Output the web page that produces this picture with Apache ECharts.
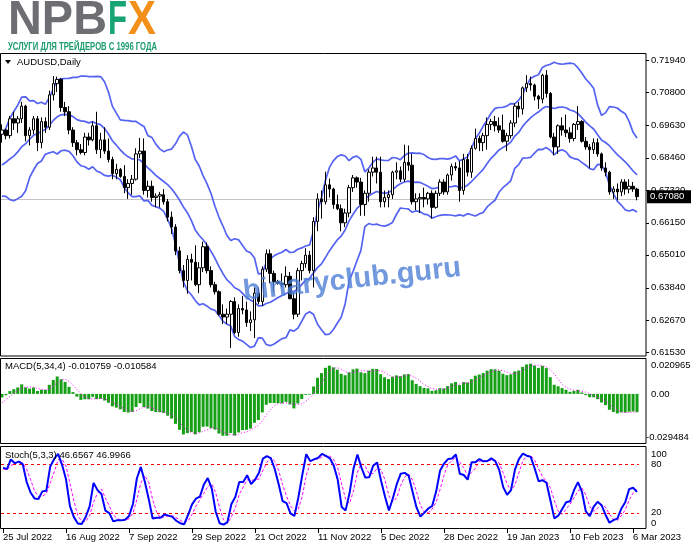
<!DOCTYPE html>
<html><head><meta charset="utf-8">
<script src="https://cdn.jsdelivr.net/npm/echarts@6/dist/echarts.min.js"></script>
<style>html,body{margin:0;padding:0;background:#fff;}#c{width:691px;height:549px;}</style>
</head><body><div id="c"></div>
<script>
// ---------- DATA ----------
const open = [.6930,.6945,.6925,.6985,.6970,.6985,.7030,.6925,.6945,.6985,.6900,.6975,.6955,.7070,.7110,.7125,.7025,.7010,.6945,.6900,
.6875,.6865,.6920,.6910,.6960,.6875,.6910,.6870,.6840,.6790,.6805,.6780,.6740,.6755,.6770,.6860,.6870,.6730,.6745,.6705,
.6710,.6715,.6690,.6635,.6600,.6515,.6445,.6410,.6485,.6475,.6395,.6455,.6530,.6445,.6395,.6370,.6290,.6280,.6290,.6335,
.6225,.6310,.6305,.6260,.6270,.6365,.6335,.6450,.6505,.6435,.6405,.6400,.6395,.6425,.6345,.6290,.6445,.6470,.6500,.6445,
.6620,.6700,.6690,.6750,.6735,.6680,.6665,.6615,.6650,.6740,.6775,.6760,.6680,.6720,.6795,.6810,.6795,.6690,.6705,.6715,
.6795,.6800,.6770,.6830,.6820,.6690,.6700,.6705,.6700,.6720,.6670,.6720,.6760,.6725,.6785,.6815,.6810,.6730,.6840,.6795,
.6880,.6915,.6900,.6925,.6965,.6975,.6960,.6945,.6905,.6925,.6970,.7030,.7020,.7095,.7110,.7105,.7065,.7055,.7140,.7075,
.6920,.6885,.6960,.6945,.6935,.6915,.6965,.6975,.6905,.6885,.6875,.6900,.6860,.6810,.6795,.6725,.6735,.6725,.6760,.6735,
.6745,.6735];
const high = [.6965,.6950,.6995,.7010,.6995,.7045,.7035,.6955,.6995,.6995,.6990,.6990,.7085,.7137,.7135,.7130,.7045,.7030,.6955,.6910,
.6895,.6935,.6935,.6975,.7010,.6935,.6955,.6915,.6850,.6825,.6810,.6820,.6770,.6785,.6880,.6917,.6915,.6765,.6765,.6720,
.6725,.6735,.6700,.6655,.6610,.6530,.6465,.6500,.6505,.6535,.6475,.6548,.6545,.6460,.6405,.6375,.6325,.6310,.6340,.6350,
.6325,.6355,.6335,.6300,.6385,.6385,.6460,.6520,.6520,.6445,.6412,.6435,.6460,.6440,.6365,.6455,.6480,.6525,.6515,.6635,
.6720,.6730,.6797,.6772,.6740,.6715,.6680,.6665,.6750,.6785,.6780,.6775,.6730,.6805,.6850,.6850,.6850,.6730,.6730,.6800,
.6830,.6815,.6893,.6890,.6860,.6720,.6720,.6740,.6725,.6730,.6730,.6770,.6770,.6790,.6825,.6830,.6835,.6860,.6860,.6890,
.6950,.6925,.6935,.6990,.6985,.6995,.6990,.7000,.6935,.6980,.7040,.7045,.7100,.7140,.7135,.7110,.7070,.7145,.7158,.7080,
.6935,.6965,.6990,.7000,.6955,.6970,.7030,.6980,.6920,.6895,.6915,.6915,.6865,.6830,.6800,.6745,.6755,.6770,.6770,.6770,
.6760,.6740];
const low = [.6900,.6912,.6915,.6945,.6935,.6970,.6905,.6890,.6930,.6870,.6880,.6935,.6945,.7050,.7080,.7010,.6995,.6930,.6885,.6855,
.6858,.6855,.6890,.6905,.6860,.6845,.6860,.6830,.6770,.6770,.6775,.6720,.6700,.6715,.6765,.6845,.6715,.6705,.6690,.6670,
.6670,.6680,.6620,.6575,.6500,.6435,.6385,.6363,.6410,.6390,.6365,.6440,.6435,.6385,.6360,.6285,.6255,.6255,.6170,.6220,
.6210,.6290,.6245,.6230,.6205,.6325,.6320,.6440,.6400,.6370,.6395,.6385,.6385,.6345,.6272,.6280,.6410,.6455,.6435,.6385,
.6585,.6630,.6680,.6705,.6665,.6660,.6585,.6600,.6635,.6725,.6740,.6640,.6640,.6690,.6780,.6755,.6670,.6670,.6670,.6700,
.6770,.6760,.6760,.6800,.6680,.6660,.6650,.6670,.6680,.6630,.6665,.6710,.6715,.6715,.6765,.6800,.6690,.6715,.6780,.6775,
.6875,.6870,.6870,.6875,.6945,.6940,.6935,.6900,.6870,.6915,.6955,.6990,.7000,.7080,.7085,.7050,.7020,.7040,.7060,.6915,
.6855,.6860,.6925,.6920,.6900,.6905,.6945,.6900,.6875,.6810,.6860,.6850,.6800,.6780,.6715,.6700,.6695,.6710,.6715,.6720,
.6725,.6695];
const close = [.6945,.6925,.6985,.6970,.6985,.7030,.6925,.6945,.6985,.6900,.6975,.6955,.7070,.7110,.7125,.7025,.7010,.6945,.6900,.6875,
.6865,.6920,.6910,.6960,.6875,.6910,.6870,.6840,.6790,.6805,.6780,.6740,.6755,.6770,.6860,.6870,.6730,.6745,.6705,.6710,
.6715,.6690,.6635,.6600,.6515,.6445,.6410,.6485,.6475,.6395,.6455,.6530,.6445,.6395,.6370,.6290,.6280,.6290,.6335,.6225,
.6310,.6305,.6260,.6270,.6365,.6335,.6450,.6505,.6435,.6405,.6400,.6395,.6425,.6345,.6290,.6445,.6470,.6500,.6445,.6620,
.6700,.6690,.6750,.6735,.6680,.6665,.6615,.6650,.6740,.6775,.6760,.6680,.6720,.6795,.6810,.6795,.6690,.6705,.6715,.6795,
.6800,.6770,.6830,.6820,.6690,.6700,.6705,.6700,.6720,.6670,.6720,.6760,.6725,.6785,.6815,.6810,.6730,.6840,.6795,.6880,
.6915,.6900,.6925,.6965,.6975,.6960,.6945,.6905,.6925,.6970,.7030,.7020,.7095,.7110,.7105,.7065,.7055,.7140,.7075,.6920,
.6885,.6960,.6945,.6935,.6915,.6965,.6975,.6905,.6885,.6875,.6900,.6860,.6810,.6795,.6725,.6735,.6725,.6760,.6735,.6745,
.6735,.6708];
// closes / highs / lows before the first visible bar (indicator warm-up, estimated)
const priorClose = [.7180,.7175,.7165,.7235,.7210,.7195,.7225,.7210,.7140,.7045,.6925,.6920,.7015,.7030,.6935,.6950,.6975,.6945,.6900,.6955,
.6925,.6880,.6860,.6870,.6790,.6820,.6745,.6790,.6820,.6830,.6775,.6770,.6780,.6720,.6790,.6810,.6880,.6840,.6870,.6870];
const priorHigh = [.6800,.6790,.6810,.6850,.6905,.6915,.6895,.6935];
const priorLow  = [.6740,.6681,.6715,.6775,.6790,.6830,.6820,.6850];
const priceTicks = [0.71940,0.70800,0.69630,0.68460,0.67320,0.66150,0.65010,0.63840,0.62670,0.61530];
const macdTicks = [0.020965, 0, -0.029484];
const stochTicks = [100, 80, 20, 0];
const stochLevels = [80, 20];
const symbolTitle = 'AUDUSD,Daily';
const macdTitle = 'MACD(5,34,4) -0.010759 -0.010584';
const stochTitle = 'Stoch(5,3,3) 46.6567 46.9966';
const currentPrice = 0.67080;
const BB_PERIOD = 14, BB_DEV = 2;

// ---------- categories (trading days) ----------
const MON = ['Jan','Feb','Mar','Apr','May','Jun','Jul','Aug','Sep','Oct','Nov','Dec'];
const dates = [];
(function(){
  let t = Date.UTC(2022,6,25); const end = Date.UTC(2023,2,7);
  while (t <= end) {
    const d = new Date(t), wd = d.getUTCDay(), m = d.getUTCMonth(), dd = d.getUTCDate(), y = d.getUTCFullYear();
    const holiday = (y===2022 && m===11 && dd===26);
    const sunBar = (y===2022 && m===9 && dd===30);
    if ((wd>=1 && wd<=5 && !holiday) || sunBar) dates.push(dd+' '+MON[m]+' '+y);
    t += 86400000;
  }
})();

// ---------- indicators ----------
const P = priorClose.length;
const cAll = priorClose.concat(close);
function ema(arr,n){const k=2/(n+1);const o=[];arr.forEach((v,i)=>o.push(i===0?v:v*k+o[i-1]*(1-k)));return o;}
const e5=ema(cAll,5), e34=ema(cAll,34);
const macdAll=cAll.map((v,i)=>e5[i]-e34[i]);
const sigAll=macdAll.map((v,i)=>i<3?v:(macdAll[i]+macdAll[i-1]+macdAll[i-2]+macdAll[i-3])/4);
const macd=macdAll.slice(P), macdSig=sigAll.slice(P);
const bbMid=[],bbUp=[],bbLo=[];
for(let i=P;i<cAll.length;i++){const w=cAll.slice(i-BB_PERIOD+1,i+1);const m=w.reduce((a,b)=>a+b,0)/BB_PERIOD;
  const sd=Math.sqrt(w.reduce((a,b)=>a+(b-m)*(b-m),0)/BB_PERIOD);bbMid.push(m);bbUp.push(m+BB_DEV*sd);bbLo.push(m-BB_DEV*sd);}
const Q=priorHigh.length;
const hA=priorHigh.concat(high), lA=priorLow.concat(low), cA=priorClose.slice(P-Q).concat(close);
const num=[],den=[];
for(let i=0;i<hA.length;i++){if(i<4){num.push(0);den.push(0);continue;}let hh=-1,ll=9;
  for(let j=i-4;j<=i;j++){hh=Math.max(hh,hA[j]);ll=Math.min(ll,lA[j]);}num.push(cA[i]-ll);den.push(hh-ll);}
const kAll=hA.map((v,i)=>{if(i<6)return null;const s1=num[i]+num[i-1]+num[i-2],s2=den[i]+den[i-1]+den[i-2];return s2?100*s1/s2:100;});
const dAll=kAll.map((v,i)=>i<8?null:(kAll[i]+kAll[i-1]+kAll[i-2])/3);
const stK=kAll.slice(Q), stD=dAll.slice(Q);

// ---------- layout ----------
const FONT='Liberation Sans';
const PW=639;
const MAIN_TOP=53, MAIN_H=303;
const mainMax=0.7194+7/2812, mainMin=0.7194-296/2812;
const chart=echarts.init(document.getElementById('c'),null,{renderer:'canvas',width:691,height:549});
function xAx(gi,show){return {type:'category',gridIndex:gi,data:dates,boundaryGap:true,
  axisLine:{show:false},splitLine:{show:false},
  axisTick:{show:show,interval:(i)=>i%16===0,alignWithLabel:true,length:4,lineStyle:{color:'#000',width:1}},
  axisLabel:{show:show,interval:(i)=>i%16===0,align:'left',margin:3,fontSize:9.5,color:'#000',fontFamily:FONT}};}
const cd=open.map((o,i)=>[o,close[i],low[i],high[i]]);
const lineS=(d)=>({type:'line',xAxisIndex:0,yAxisIndex:0,data:d,showSymbol:false,symbol:'none',silent:true,
  lineStyle:{color:'#5563f2',width:1.7},z:3});
chart.setOption({
  animation:false,
  textStyle:{fontFamily:FONT},
  grid:[{left:0,top:MAIN_TOP,width:PW,height:MAIN_H},{left:0,top:359,width:PW,height:84},{left:0,top:448,width:PW,height:81}],
  xAxis:[xAx(0,false),xAx(1,false),xAx(2,true)],
  yAxis:[
    {type:'value',gridIndex:0,position:'right',offset:7,min:mainMin,max:mainMax,splitLine:{show:false},axisLine:{show:false},
     axisTick:{show:true,customValues:priceTicks,length:3,lineStyle:{color:'#000'}},
     axisLabel:{customValues:priceTicks,formatter:(v)=>v.toFixed(5),fontSize:9.5,color:'#000',margin:5,fontFamily:FONT}},
    {type:'value',gridIndex:1,position:'right',offset:7,min:-0.029484,max:0.020965,splitLine:{show:false},axisLine:{show:false},
     axisTick:{show:false},axisLabel:{show:false}},
    {type:'value',gridIndex:2,position:'right',offset:7,min:0,max:100,splitLine:{show:false},axisLine:{show:false},
     axisTick:{show:false},axisLabel:{show:false}}
  ],
  series:[
    {type:'candlestick',xAxisIndex:0,yAxisIndex:0,data:cd,barWidth:3,silent:true,z:4,
     itemStyle:{color:'#ffffff',color0:'#000000',borderColor:'#000000',borderColor0:'#000000',borderWidth:1},
     markLine:{silent:true,symbol:'none',label:{show:false},lineStyle:{color:'#c4c4c4',type:'solid',width:1},data:[{yAxis:currentPrice}],z:1}},
    lineS(bbUp),lineS(bbMid),lineS(bbLo),
    {type:'bar',xAxisIndex:1,yAxisIndex:1,data:macd,barWidth:3,silent:true,itemStyle:{color:'#16a016'}},
    {type:'line',xAxisIndex:1,yAxisIndex:1,data:macdSig,showSymbol:false,symbol:'none',silent:true,z:5,
     lineStyle:{color:'#ff00ff',width:1,type:[1,2]}},
    {type:'line',xAxisIndex:2,yAxisIndex:2,data:stK,showSymbol:false,symbol:'none',silent:true,z:5,
     lineStyle:{color:'#0000ff',width:2},
     markLine:{silent:true,symbol:'none',label:{show:false},lineStyle:{color:'#ff0000',type:[3,3],width:1},
       data:stochLevels.map(v=>({yAxis:v}))}},
    {type:'line',xAxisIndex:2,yAxisIndex:2,data:stD,showSymbol:false,symbol:'none',silent:true,z:4,
     lineStyle:{color:'#ff00ff',width:1,type:[3,2]}}
  ]
});

// ---------- decorations (text, frames) ----------
const ctx=document.createElement('canvas').getContext('2d');
function tw(txt,font){ctx.font=font;return ctx.measureText(txt).width;}
const G=[];
function T(x,y,txt,size,opt){opt=opt||{};G.push({type:'text',x:x,y:y,z:opt.z||50,scaleX:opt.sx||1,scaleY:opt.sy||1,rotation:opt.rot||0,
  style:{text:txt,fill:opt.fill||'#000',font:(opt.w||'normal')+' '+size+'px "'+(opt.ff||FONT)+'"',
  textAlign:opt.align||'left',textVerticalAlign:opt.va||'middle',opacity:opt.op==null?1:opt.op}});}
[[53.5,302.5],[358.5,85],[446.5,82]].forEach(f=>G.push({type:'rect',z:40,shape:{x:0.5,y:f[0],width:645.5,height:f[1]},
  style:{fill:null,stroke:'#000',lineWidth:1}}));
// logo
const logoFont='bold 45px "Liberation Sans"';
T(8,21,'NPB',45,{w:'bold',fill:'#6d6e71',sx:99/tw('NPB',logoFont),sy:1.05});
T(108,21,'F',45,{w:'bold',fill:'#16a472',sx:19/tw('F',logoFont),sy:1.05});
T(128,21,'X',45,{w:'bold',fill:'#f39019',sx:28/tw('X',logoFont),sy:1.05});
const sub='УСЛУГИ ДЛЯ ТРЕЙДЕРОВ С 1996 ГОДА';
const subFont='bold 11px "Liberation Sans"';
T(8,46.5,sub,11,{w:'bold',fill:'#1a9c6c',sx:149/tw(sub,subFont)});
// titles
G.push({type:'polygon',z:50,shape:{points:[[5,60],[11,60],[8,64]]},style:{fill:'#000'}});
T(17,62,symbolTitle,9.5);
T(5,366,macdTitle,9.5);
T(5,455,stochTitle,9.5);
// sub-panel scale labels
const yM=(v)=>chart.convertToPixel({yAxisIndex:1},v), yS=(v)=>chart.convertToPixel({yAxisIndex:2},v);
macdTicks.forEach(v=>{let y=yM(v),txt=v===0?'0.00':v.toFixed(6),x=651;
  if(v===macdTicks[0])y+=6; if(v<0){y-=6;x=646;} T(x,y,txt,9.5);});
stochTicks.forEach(v=>{let y=yS(v);if(v===100)y+=6;if(v===0)y-=6;T(651,y,String(v),9.5);});
// current price tag
const yp=chart.convertToPixel({yAxisIndex:0},currentPrice);
G.push({type:'rect',z:60,shape:{x:647,y:yp-6.5,width:44,height:13},style:{fill:'#000'}});
T(650,yp,currentPrice.toFixed(5),9.5,{fill:'#fff',z:61});
// watermark
T(352,280,'binaryclub.guru',29,{w:'bold',fill:'#4f7fd6',op:0.8,align:'center',rot:0.11,z:70});
chart.setOption({graphic:G});
</script></body></html>
